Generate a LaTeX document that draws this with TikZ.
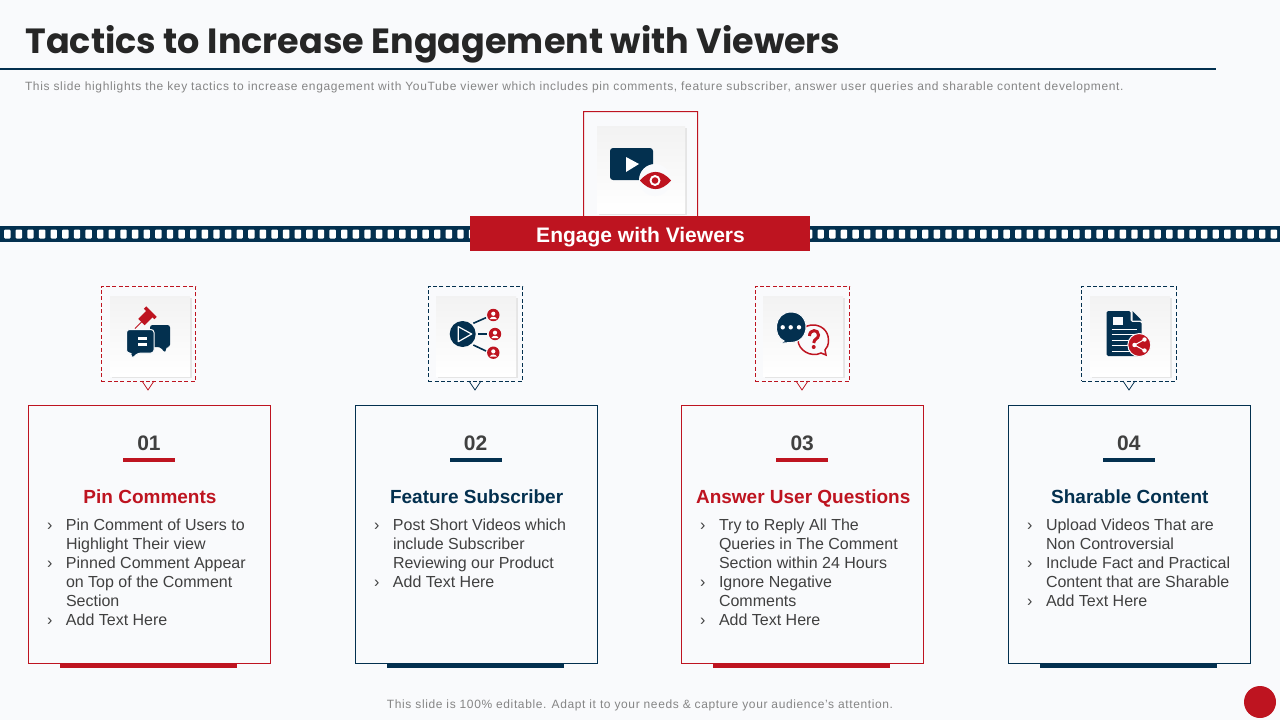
\documentclass[tikz,border=0pt]{standalone}
\usepackage{fontspec}
\setmainfont{Liberation Sans}
\newfontfamily\titlefont{Poppins}
\usetikzlibrary{positioning}
\definecolor{tacticred}{HTML}{BE1420}
\definecolor{tacticblue}{HTML}{03304F}
\definecolor{pagebg}{HTML}{F9FAFC}
\definecolor{bodygray}{HTML}{404040}
\definecolor{notegray}{HTML}{858585}
\newcommand{\tick}{\llap{\makebox[19pt][l]{›}}}
\tikzset{
    x=1pt, y=-1pt,
    every node/.style={inner sep=0pt, outer sep=0pt},
    card/.style={draw, line width=1pt, minimum width=242pt, minimum height=258pt},
    redcard/.style={card, draw=tacticred},
    bluecard/.style={card, draw=tacticblue},
    foot/.style={minimum width=177pt, minimum height=4.5pt, xshift=-1pt},
    numlabel/.style={font=\bfseries\fontsize{21}{24}\selectfont, text=bodygray, xshift=-0.5pt},
    numbar/.style={minimum width=52pt, minimum height=4pt},
    headlabel/.style={font=\bfseries\fontsize{19}{22}\selectfont, xshift=1pt},
    bodylabel/.style={font=\fontsize{16}{19}\selectfont, text=bodygray, align=left, anchor=north west},
    frameline/.style={draw, line width=0.9pt, dash pattern=on 4pt off 2.4pt, minimum width=94.5pt, minimum height=95pt},
    tile/.style={top color=black!5, bottom color=white, minimum width=80pt, minimum height=80pt},
    tileshade/.style={fill=black!10, minimum width=80pt, minimum height=80pt},
    navyfill/.style={fill=tacticblue},
    redfill/.style={fill=tacticred},
    halo/.style={fill=pagebg},
}
\begin{document}
\begin{tikzpicture}
    \useasboundingbox (0,0) rectangle (1280,720);
    \fill[pagebg] (0,0) rectangle (1280,720);

    % heading
    \node[anchor=west, text=black!85, font=\titlefont\bfseries\fontsize{35}{44}\selectfont] (title) at (25.5,44) {Tactics to Increase Engagement with Viewers};
    \draw[tacticblue, line width=1.6pt] (0,69) -- (1216,69);
    \node[anchor=west, text=notegray, font=\fontsize{12}{14}\selectfont\addfontfeature{LetterSpace=5.4}] (intro) at (25,87.5) {This slide highlights the key tactics to increase engagement with YouTube viewer  which includes pin comments, feature subscriber, answer user queries and sharable content development.};

    % film strip
    \fill[tacticblue] (0,226) rectangle (1280,242);
    \foreach \sx in {0,...,110}
        \fill[white, rounded corners=1pt] ({7.3+11.62*\sx-3.2},229.5) rectangle ({7.3+11.62*\sx+3.2},238.5);

    % top tile
    \fill[tacticred, even odd rule] (583,111) rectangle (698,217) (584,112) rectangle (697,217);
    \node[fill=black!10, minimum width=88pt, minimum height=87pt] (topshade) at (642.5,171) {};
    \node[top color=black!5, bottom color=white, minimum width=88pt, minimum height=87pt] (toptile) at (641,169.5) {};
    \node[redfill, minimum width=340pt, minimum height=35pt] (banner) at (640,233.5) {};
    \node[text=white, font=\bfseries\fontsize{21}{24}\selectfont] (bannertext) at (640.5,237.5) {Engage with  Viewers};
    \fill[navyfill, rounded corners=3pt] (610,148) rectangle (653,180);
    \fill[white] (626,157) -- (626,172) -- (639,164) -- cycle;
    \fill[halo] (655,180) circle (16);
    \fill[redfill] (640,180.5) .. controls (650,169) and (661,169) .. (671,180.5) .. controls (661,192) and (650,192) .. (640,180.5) -- cycle;
    \fill[white] (655,180.5) circle (5.5);
    \fill[redfill] (655,180.5) circle (3.3);

    % cards
    \node[redcard] (cardA) at (149.5,534) {};
    \node[foot, redfill, below=0pt of cardA.south] (footA) {};
    \node[bluecard, right=84.6pt of cardA] (cardB) {};
    \node[foot, navyfill, below=0pt of cardB.south] (footB) {};
    \node[redcard, right=84.6pt of cardB] (cardC) {};
    \node[foot, redfill, below=0pt of cardC.south] (footC) {};
    \node[bluecard, right=84.6pt of cardC] (cardD) {};
    \node[foot, navyfill, below=0pt of cardD.south] (footD) {};

    % card texts
    \node[numlabel, below=31pt of cardA.north] (numA) {01};
    \node[numbar, redfill, below=7pt of numA] (barA) {};
    \node[headlabel, text=tacticred, below=28pt of barA] (headA) {Pin Comments};
    \node[bodylabel] (bodyA) at (66,519) {\tick Pin Comment of Users to\\Highlight Their view\\\tick Pinned Comment Appear\\on Top of the Comment\\Section\\\tick Add Text Here};

    \node[numlabel, below=31pt of cardB.north] (numB) {02};
    \node[numbar, navyfill, below=7pt of numB] (barB) {};
    \node[headlabel, text=tacticblue, below=28pt of barB] (headB) {Feature Subscriber};
    \node[bodylabel] (bodyB) at (393,519) {\tick Post Short Videos which\\include Subscriber\\Reviewing our Product\\\tick Add Text Here};

    \node[numlabel, below=31pt of cardC.north] (numC) {03};
    \node[numbar, redfill, below=7pt of numC] (barC) {};
    \node[headlabel, text=tacticred, below=28pt of barC] (headC) {Answer User Questions};
    \node[bodylabel] (bodyC) at (719,519) {\tick Try to Reply All The\\Queries in The Comment\\Section within 24 Hours\\\tick Ignore Negative\\Comments\\\tick Add Text Here};

    \node[numlabel, below=31pt of cardD.north] (numD) {04};
    \node[numbar, navyfill, below=7pt of numD] (barD) {};
    \node[headlabel, text=tacticblue, below=28pt of barD] (headD) {Sharable Content};
    \node[bodylabel] (bodyD) at (1046,519) {\tick Upload Videos That are\\Non Controversial\\\tick Include  Fact and Practical\\Content that are Sharable\\\tick Add Text Here};

    % icon frames
    \node[frameline, draw=tacticred] (frameA) at (148.5,333.5) {};
    \node[tileshade] (shadeA) at (151.5,337.5) {};
    \node[tile] (tileA) at (150,336) {};
    \draw[tacticred, line width=0.8pt] (142,381) -- (148,390) -- (154,381);

    \node[frameline, draw=tacticblue] (frameB) at (475.5,333.5) {};
    \node[tileshade] (shadeB) at (477.5,337.5) {};
    \node[tile] (tileB) at (476,336) {};
    \draw[tacticblue, line width=0.8pt] (469,381) -- (475,390) -- (481,381);

    \node[frameline, draw=tacticred] (frameC) at (802.5,333.5) {};
    \node[tileshade] (shadeC) at (804.5,337.5) {};
    \node[tile] (tileC) at (803,336) {};
    \draw[tacticred, line width=0.8pt] (796,381) -- (802,390) -- (808,381);

    \node[frameline, draw=tacticblue] (frameD) at (1129,333.5) {};
    \node[tileshade] (shadeD) at (1131.5,337.5) {};
    \node[tile] (tileD) at (1130,336) {};
    \draw[tacticblue, line width=0.8pt] (1123,381) -- (1129,390) -- (1135,381);

    % pin icon
    \fill[navyfill, rounded corners=2.5pt] (150,325) -- (170,325) -- (170,347) -- (166,347) -- (165.5,353) -- (160,347) -- (150,347) -- cycle;
    \fill[navyfill, draw=pagebg, line width=1pt, rounded corners=3pt] (126.5,329.5) -- (154,329.5) -- (154,353) -- (138,353) -- (131.5,359) -- (131.5,353) -- (126.5,353) -- cycle;
    \fill[white] (138,337) rectangle (147,340);
    \fill[white] (138,342.5) rectangle (147,345.5);
    \draw[tacticred, line width=1pt] (135,328.5) -- (143,320.5);
    \draw[tacticred, line width=9pt] (141.5,322) -- (150,313.5);
    \draw[tacticred, line width=3.5pt] (145,307.5) -- (155.5,318);

    % subscriber icon
    \fill[navyfill] (462.7,334) circle (13);
    \draw[white, line width=1.2pt, line join=round] (458.3,326.7) -- (458.3,341.7) -- (471.7,334) -- cycle;
    \draw[tacticblue, line width=1.6pt] (473.3,323.3) -- (486,317.7);
    \draw[tacticblue, line width=1.6pt] (478.3,333.7) -- (486.7,333.7);
    \draw[tacticblue, line width=1.6pt] (473.3,345) -- (486,351);
    \foreach \px/\py in {493.3/315, 495/334, 493.3/352.7} {
        \fill[tacticred] (\px,\py) circle (6.2);
        \fill[white] (\px,\py-1.3) circle (2.1);
        \fill[white] (\px-3.6,\py+4) .. controls (\px-2.5,\py+1) and (\px+2.5,\py+1) .. (\px+3.6,\py+4) -- cycle;
    }

    % question icon
    \draw[tacticred, line width=1.5pt, fill=pagebg] (821,353) .. controls (811,358) and (798,350) .. (798,340) .. controls (798,320) and (828,320) .. (828.5,340) .. controls (828.5,345) and (827,348) .. (825,350) -- (826,355) -- cycle;
    \draw[tacticred, line width=3pt] (809.5,336) .. controls (809.5,329) and (818.5,329) .. (818.5,335) .. controls (818.5,339) and (813.7,339) .. (813.7,343);
    \fill[redfill] (813.7,347) circle (2);
    \fill[navyfill, draw=pagebg, line width=1pt] (784,341) .. controls (772,336) and (774,312) .. (791,312) .. controls (811,312) and (811,342) .. (791,342.5) .. controls (788,342.5) and (785,343) .. (779.3,343.5) -- cycle;
    \fill[white] (782.7,327.3) circle (2.2);
    \fill[white] (790.7,327.3) circle (2.2);
    \fill[white] (799,327.3) circle (2.2);

    % document icon
    \fill[navyfill, rounded corners=1.5pt] (1106.7,311) -- (1130.5,311) -- (1130.5,322) -- (1141.7,322) -- (1141.7,356) -- (1106.7,356) -- cycle;
    \fill[navyfill] (1132.5,311) -- (1141.7,320.5) -- (1132.5,320.5) -- cycle;
    \fill[pagebg] (1112.7,316.7) rectangle (1122.7,325);
    \foreach \ly in {329, 334.3, 340, 345.7, 351}
        \draw[white, line width=1pt] (1111.7,\ly) -- (1136.7,\ly);
    \fill[redfill, draw=pagebg, line width=1pt] (1139.3,345) circle (11.5);
    \draw[white, line width=1pt] (1144.5,339.5) -- (1134.5,345) -- (1144.5,350.5);
    \fill[white] (1144.5,339.5) circle (2.2);
    \fill[white] (1134.5,345) circle (2.2);
    \fill[white] (1144.5,350.5) circle (2.2);

    % footer
    \node[text=notegray, font=\fontsize{12}{14}\selectfont\addfontfeature{LetterSpace=5.1}] (note) at (640,705) {This slide is 100\% editable. Adapt it to your needs \& capture your audience’s attention.};
    \node[circle, redfill, minimum size=32pt] (corner) at (1260,702) {};
\end{tikzpicture}
\end{document}
